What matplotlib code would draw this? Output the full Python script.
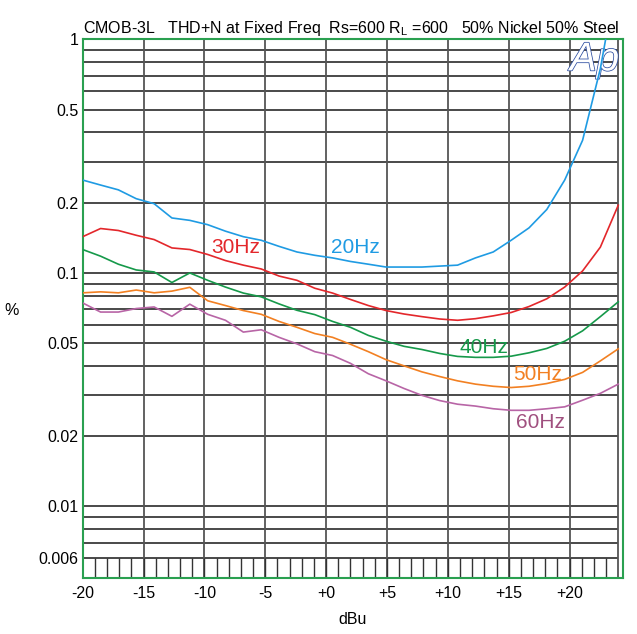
import numpy as np
import matplotlib
matplotlib.use("Agg")
import matplotlib.pyplot as plt
import matplotlib.patheffects as pe

plt.rcParams['font.family'] = ['Liberation Sans', 'DejaVu Sans']
plt.rcParams['mathtext.fontset'] = 'custom'
plt.rcParams['mathtext.rm'] = 'Liberation Sans'

# sweep level, dBu
dbu = [-20, -18.53, -17.07, -15.6, -14.13, -12.67, -11.2, -9.73, -8.27, -6.8,
       -5.33, -3.87, -2.4, -0.93, 0.53, 2.0, 3.47, 4.93, 6.4, 7.87,
       9.33, 10.8, 12.27, 13.73, 15.2, 16.67, 18.13, 19.6, 21.07, 22.53, 24.0]

# THD+N in %
thd_20hz = [0.25, 0.238, 0.227, 0.208, 0.198, 0.172, 0.168, 0.161, 0.151, 0.143,
            0.138, 0.13, 0.123, 0.119, 0.116, 0.112, 0.109, 0.106, 0.106, 0.106,
            0.107, 0.108, 0.116, 0.123, 0.138, 0.156, 0.187, 0.25, 0.37, 0.75, 2.0]
thd_30hz = [0.143, 0.155, 0.152, 0.145, 0.139, 0.128, 0.126, 0.12, 0.113, 0.108,
            0.104, 0.097, 0.093, 0.086, 0.082, 0.077, 0.0725, 0.069, 0.0667, 0.065,
            0.0635, 0.0627, 0.0637, 0.0655, 0.0677, 0.0718, 0.0775, 0.087, 0.102, 0.129, 0.195]
thd_40hz = [0.126, 0.118, 0.109, 0.103, 0.101, 0.091, 0.100, 0.093, 0.087, 0.082,
            0.079, 0.0737, 0.0692, 0.0663, 0.062, 0.0585, 0.054, 0.051, 0.0485, 0.047,
            0.0452, 0.0439, 0.0435, 0.0435, 0.044, 0.0455, 0.0475, 0.051, 0.0565, 0.065, 0.0752]
thd_50hz = [0.0822, 0.083, 0.0822, 0.0845, 0.0822, 0.0836, 0.0868, 0.076, 0.0725, 0.069,
            0.0665, 0.062, 0.0585, 0.055, 0.053, 0.0495, 0.046, 0.0425, 0.040, 0.0377,
            0.036, 0.0345, 0.0334, 0.0327, 0.0323, 0.0327, 0.0336, 0.035, 0.0375, 0.042, 0.0473]
thd_60hz = [0.0744, 0.068, 0.068, 0.0704, 0.0715, 0.0652, 0.0735, 0.0665, 0.0627, 0.0558,
            0.0571, 0.053, 0.0497, 0.046, 0.0443, 0.041, 0.037, 0.0345, 0.032, 0.0299,
            0.0284, 0.0274, 0.0269, 0.0262, 0.0258, 0.0258, 0.0262, 0.0267, 0.0285, 0.0305, 0.0334]

series = [
    ("20Hz", thd_20hz, "#1f9be3", "#1f9be3", 2.4, 0.128),
    ("30Hz", thd_30hz, "#e3272b", "#e3272b", -7.4, 0.128),
    ("40Hz", thd_40hz, "#16994a", "#16994a", 13.0, 0.048),
    ("50Hz", thd_50hz, "#f28022", "#f28022", 17.4, 0.0366),
    ("60Hz", thd_60hz, "#b865a6", "#a0507f", 17.6, 0.0228),
]

x_ticks = [-20, -15, -10, -5, 0, 5, 10, 15, 20]
x_labels = ["-20", "-15", "-10", "-5", "+0", "+5", "+10", "+15", "+20"]
y_ticks = [1, 0.5, 0.2, 0.1, 0.05, 0.02, 0.01, 0.006]
y_labels = ["1", "0.5", "0.2", "0.1", "0.05", "0.02", "0.01", "0.006"]

fig = plt.figure(figsize=(6.37, 6.34), dpi=100)
ax = fig.add_axes([0.1298, 0.0888, 0.8484, 0.8489])
ax.set_yscale("log")
ax.set_xlim(-20, 24.4)
ax.set_ylim(0.00495, 1)

# grid, AP style: horizontal at every 1..9 step down to 0.006
grid_vals = []
for dec in [0.001, 0.01, 0.1]:
    for m in range(1, 10):
        v = round(m * dec, 6)
        if 0.006 <= v <= 1:
            grid_vals.append(v)
grid_vals.append(1.0)
ax.hlines(grid_vals, -20, 24, colors="#3a3a3a", linewidth=1.3, zorder=1)
ax.vlines(x_ticks[1:] + [24], 0.00495, 1, colors="#555555", linewidth=1.3, zorder=1)
ax.vlines(range(-19, 24), 0.00495, 0.006, colors="#333333", linewidth=1.0, zorder=1)

ax.text(0.947, 0.963, "Ap", transform=ax.transAxes, ha="center", va="center",
        fontsize=29, style="italic", color="white", zorder=2,
        path_effects=[pe.Stroke(linewidth=1.1, foreground="#2a4ca0"), pe.Normal()])

for name, vals, c, tc, lx, ly in series:
    ax.plot(dbu, vals, color=c, linewidth=1.2, zorder=3)
    ax.text(lx, ly, name, color=tc, fontsize=15, ha="center", va="center", zorder=4)

for s in ax.spines.values():
    s.set_color("#2aa050")
    s.set_linewidth(1.5)

ax.set_xticks(x_ticks)
ax.set_xticklabels(x_labels)
ax.set_yticks(y_ticks)
ax.set_yticklabels(y_labels)
ax.minorticks_off()
ax.tick_params(length=0, labelsize=11.5, pad=6)
ax.tick_params(axis="y", pad=3)

ax.set_xlabel("dBu", fontsize=11.5, labelpad=8)
fig.text(0.018, 0.51, "%", fontsize=11.5, ha="center", va="center")
fig.text(0.551, 0.955, "CMOB-3L   THD+N at Fixed Freq  Rs=600 R$_{\\mathrm{L}}$ =600   50% Nickel 50% Steel",
         fontsize=11.5, ha="center", va="center")

fig.savefig("out.png", dpi=100)
